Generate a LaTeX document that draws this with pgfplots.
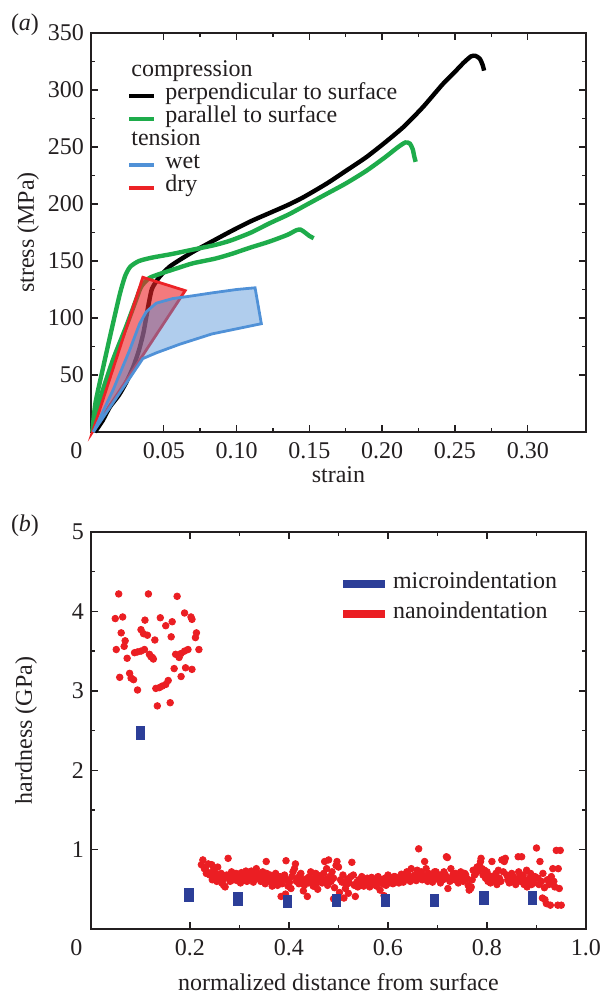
\documentclass[border=0pt]{standalone}
\usepackage{fontspec}
\setmainfont{Liberation Serif}
\usepackage{pgfplots}
\pgfplotsset{compat=1.18}

\definecolor{cgreen}{RGB}{30,172,75}
\definecolor{cblue}{RGB}{80,145,215}
\definecolor{cred}{RGB}{236,34,38}
\definecolor{mblue}{RGB}{44,62,152}
\definecolor{nred}{RGB}{235,30,35}
\definecolor{ink}{RGB}{35,31,32}

\pgfplotsset{
  panel/.style={
    scale only axis, width=247.5pt, clip=false,
    axis line style={line width=0.75pt, ink},
    every tick/.style={line width=0.7pt, ink},
    major tick length=3.5pt, minor tick length=2.2pt,
    tick align=inside,
    /pgf/number format/assume math mode=true,
    tick label style={font=\fontsize{12}{14}\selectfont, text=ink},
    xticklabel style={yshift=-1.5pt},
    label style={font=\fontsize{12}{14}\selectfont, text=ink},
    legend cell align=left,
    legend style={font=\fontsize{12}{14}\selectfont, text=ink, draw=none, fill=none,
      inner sep=0pt, column sep=4.5pt},
  }
}

\begin{document}
\begin{tikzpicture}
\useasboundingbox (-45.5pt,-32pt) rectangle (256.5pt,464.5pt);

% (a) stress-strain
\begin{axis}[panel, height=199.5pt, at={(0pt,248.5pt)}, anchor=south west,
  xmin=0, xmax=0.34, ymin=0, ymax=350,
  xtick={0.05,0.10,0.15,0.20,0.25,0.30},
  xticklabels={0.05,0.10,0.15,0.20,0.25,0.30},
  ytick={50,100,150,200,250,300,350},
  minor x tick num=1, minor y tick num=1,
  xlabel={strain}, ylabel={stress (MPa)},
  xlabel style={at={(axis description cs:0.5,0)}, anchor=base, yshift=-25.3pt},
  ylabel style={at={(axis description cs:-0.127,0.5)}, anchor=center},
  legend image code/.code={\draw[#1,line width=2pt] (0pt,-1.1pt) -- (12.5pt,-1.1pt);},
  legend style={at={(rel axis cs:0.0727,0.935)}, anchor=north west,
    nodes={inner sep=0pt, text height=8.5pt, text depth=3pt}},
]
% compression, perpendicular
\addplot[black, line width=2.2pt, smooth, tension=0.4, forget plot] coordinates {
 (0.0027,0) (0.008,10) (0.013,22) (0.019,32) (0.024,43) (0.029,57) (0.033,72)
 (0.036,87) (0.038,101) (0.040,115) (0.042,126) (0.047,136) (0.054,145)
 (0.061,151) (0.070,158) (0.080,165) (0.096,176) (0.110,185) (0.1225,192)
 (0.135,199) (0.146,206) (0.162,218) (0.175,229) (0.189,241) (0.202,254)
 (0.215,268) (0.228,285) (0.2415,305) (0.250,316) (0.256,324) (0.261,329.5)
 (0.264,330) (0.267,327.5) (0.269,322) (0.270,317)};
% compression, parallel (two samples)
\addplot[cgreen, line width=2.2pt, smooth, tension=0.4, forget plot] coordinates {
 (0.001,0) (0.003,25) (0.0084,57) (0.014,89) (0.0198,121) (0.0235,137)
 (0.027,145) (0.033,150) (0.042,153) (0.055,156) (0.070,160) (0.085,164)
 (0.096,168) (0.110,175) (0.1225,183) (0.136,191) (0.149,200) (0.162,209)
 (0.175,218) (0.189,229) (0.202,241) (0.211,250) (0.216,254) (0.219,253)
 (0.221,248) (0.222,242) (0.223,237)};
\addplot[cgreen, line width=2.2pt, smooth, tension=0.4, forget plot] coordinates {
 (0.001,0) (0.006,28) (0.015,63) (0.024,92) (0.031,116) (0.0345,127.5)
 (0.040,135) (0.048,139) (0.060,144) (0.070,148) (0.085,152) (0.096,156)
 (0.110,162) (0.1225,167) (0.135,173) (0.141,177) (0.144,177.5) (0.147,175)
 (0.150,172) (0.153,170)};
% tension, dry
\addplot[fill=cred, fill opacity=0.6, draw=none, forget plot] coordinates {
 (0.001,0) (0.0356,135.7) (0.0647,124) } -- cycle;
\addplot[cred, line width=1.4pt, forget plot] coordinates {
 (0.001,0) (0.0356,135.7) (0.0647,124) } -- cycle;
% tension, wet
\addplot[fill=cblue, fill opacity=0.45, draw=none, forget plot] coordinates {
 (0.0016,0) (0.0152,37) (0.0266,72) (0.0334,95) (0.038,105.5) (0.0448,113)
 (0.056,117) (0.070,119.5) (0.083,122) (0.100,125) (0.1127,126.5) (0.117,95)
 (0.100,90.5) (0.083,86) (0.061,77) (0.045,69.5) (0.0356,64.4) } -- cycle;
\addplot[cblue, line width=1.4pt, forget plot] coordinates {
 (0.0016,0) (0.0152,37) (0.0266,72) (0.0334,95) (0.038,105.5) (0.0448,113)
 (0.056,117) (0.070,119.5) (0.083,122) (0.100,125) (0.1127,126.5) (0.117,95)
 (0.100,90.5) (0.083,86) (0.061,77) (0.045,69.5) (0.0356,64.4) } -- cycle;

\addlegendimage{empty legend}\addlegendentry{\hspace*{-17pt}compression}
\addlegendimage{black}\addlegendentry{perpendicular to surface}
\addlegendimage{cgreen}\addlegendentry{parallel to surface}
\addlegendimage{empty legend}\addlegendentry{\hspace*{-17pt}tension}
\addlegendimage{cblue}\addlegendentry{wet}
\addlegendimage{cred}\addlegendentry{dry}

\node[font=\fontsize{12}{14}\selectfont, text=ink] at (rel axis cs:0,0) [xshift=-7.25pt, yshift=-9.5pt] {0};
\node[font=\fontsize{12}{14}\selectfont, text=ink] at (rel axis cs:0,1) [xshift=-33pt, yshift=4pt] {(\textit{a})};
\end{axis}

% (b) hardness
\begin{axis}[panel, height=198.5pt, at={(0pt,0pt)}, anchor=south west,
  xmin=0, xmax=1, ymin=0, ymax=5,
  xtick={0.2,0.4,0.6,0.8,1.0},
  xticklabels={0.2,0.4,0.6,0.8,1.0},
  ytick={1,2,3,4,5},
  minor x tick num=1, minor y tick num=1,
  xlabel={normalized distance from surface}, ylabel={hardness (GPa)},
  xlabel style={at={(axis description cs:0.5,0)}, anchor=base, yshift=-30.5pt},
  ylabel style={at={(axis description cs:-0.131,0.5)}, anchor=center},
  legend image code/.code={\fill[#1] (0pt,-2.45pt) rectangle (20.5pt,1.25pt);},
  legend style={at={(rel axis cs:0.508,0.904)}, anchor=north west, column sep=4.2pt,
    row sep=3pt, nodes={inner sep=0pt, text height=9pt, text depth=3pt}},
]
% nanoindentation
\addplot[only marks, mark=*, mark size=1.65pt, mark options={draw=nred, fill=nred}, forget plot] table {
x y
0.056 4.22
0.116 4.22
0.174 4.19
0.049 3.91
0.064 3.93
0.109 3.89
0.140 3.92
0.151 3.82
0.164 3.87
0.189 3.98
0.202 3.93
0.204 3.90
0.061 3.73
0.101 3.77
0.106 3.72
0.114 3.70
0.129 3.64
0.162 3.68
0.213 3.73
0.211 3.67
0.069 3.63
0.067 3.56
0.051 3.52
0.218 3.52
0.088 3.48
0.094 3.49
0.101 3.50
0.108 3.52
0.118 3.46
0.121 3.43
0.124 3.42
0.126 3.40
0.171 3.46
0.178 3.42
0.182 3.47
0.189 3.50
0.196 3.52
0.073 3.41
0.168 3.28
0.191 3.29
0.204 3.27
0.058 3.17
0.078 3.22
0.081 3.16
0.086 3.14
0.182 3.18
0.094 3.01
0.131 3.03
0.138 3.04
0.144 3.06
0.151 3.08
0.156 3.13
0.134 2.81
0.160 2.85
0.223 0.81
0.226 0.87
0.229 0.76
0.231 0.77
0.233 0.70
0.234 0.72
0.237 0.82
0.240 0.68
0.244 0.81
0.245 0.62
0.247 0.74
0.250 0.71
0.251 0.66
0.254 0.60
0.256 0.78
0.258 0.68
0.261 0.64
0.263 0.70
0.264 0.58
0.267 0.62
0.268 0.55
0.271 0.53
0.272 0.66
0.274 0.68
0.277 0.89
0.279 0.64
0.281 0.60
0.284 0.72
0.286 0.67
0.288 0.62
0.291 0.66
0.293 0.70
0.295 0.61
0.297 0.69
0.300 0.64
0.302 0.58
0.304 0.71
0.306 0.66
0.308 0.62
0.310 0.66
0.313 0.73
0.315 0.60
0.317 0.70
0.319 0.64
0.322 0.68
0.324 0.73
0.326 0.63
0.328 0.59
0.331 0.68
0.334 0.76
0.336 0.64
0.338 0.70
0.341 0.66
0.343 0.60
0.345 0.62
0.347 0.72
0.350 0.67
0.352 0.57
0.354 0.85
0.355 0.70
0.357 0.64
0.360 0.61
0.362 0.68
0.364 0.59
0.366 0.54
0.368 0.66
0.371 0.64
0.373 0.70
0.375 0.58
0.377 0.55
0.379 0.62
0.382 0.66
0.384 0.41
0.386 0.57
0.388 0.63
0.391 0.68
0.393 0.44
0.394 0.86
0.396 0.62
0.398 0.54
0.401 0.59
0.404 0.51
0.406 0.66
0.408 0.72
0.411 0.76
0.413 0.82
0.415 0.60
0.417 0.64
0.420 0.57
0.422 0.68
0.424 0.70
0.427 0.61
0.429 0.48
0.431 0.55
0.434 0.63
0.437 0.41
0.439 0.58
0.441 0.66
0.444 0.72
0.446 0.60
0.449 0.54
0.451 0.64
0.454 0.70
0.456 0.58
0.458 0.50
0.460 0.62
0.462 0.67
0.464 0.64
0.467 0.58
0.470 0.70
0.472 0.85
0.474 0.62
0.476 0.76
0.478 0.55
0.480 0.87
0.482 0.66
0.485 0.60
0.487 0.72
0.490 0.38
0.490 0.64
0.492 0.52
0.495 0.80
0.497 0.85
0.500 0.78
0.502 0.46
0.504 0.62
0.507 0.59
0.509 0.68
0.511 0.39
0.514 0.51
0.516 0.56
0.518 0.63
0.520 0.45
0.522 0.58
0.525 0.66
0.527 0.84
0.530 0.68
0.532 0.55
0.534 0.41
0.537 0.59
0.539 0.53
0.541 0.62
0.544 0.57
0.547 0.66
0.549 0.60
0.551 0.54
0.553 0.62
0.556 0.57
0.558 0.64
0.560 0.59
0.563 0.53
0.565 0.61
0.567 0.65
0.570 0.56
0.573 0.59
0.575 0.63
0.577 0.54
0.580 0.66
0.582 0.60
0.584 0.49
0.587 0.62
0.589 0.57
0.592 0.42
0.592 0.60
0.594 0.64
0.596 0.55
0.598 0.61
0.600 0.68
0.603 0.58
0.605 0.63
0.607 0.62
0.610 0.57
0.612 0.66
0.614 0.66
0.617 0.60
0.620 0.64
0.622 0.58
0.624 0.62
0.627 0.69
0.629 0.63
0.631 0.59
0.634 0.66
0.636 0.62
0.638 0.72
0.640 0.70
0.643 0.64
0.645 0.60
0.647 0.76
0.650 0.66
0.652 0.63
0.654 0.68
0.657 0.61
0.659 0.74
0.662 1.01
0.664 0.66
0.667 0.72
0.669 0.62
0.671 0.68
0.674 0.85
0.676 0.64
0.677 0.76
0.680 0.60
0.682 0.70
0.684 0.68
0.687 0.62
0.690 0.59
0.692 0.66
0.694 0.72
0.697 0.72
0.699 0.63
0.702 0.68
0.704 0.64
0.706 0.58
0.709 0.66
0.711 0.62
0.713 0.72
0.716 0.68
0.718 0.91
0.720 0.90
0.721 0.51
0.723 0.64
0.725 0.60
0.727 0.76
0.730 0.66
0.732 0.70
0.735 0.62
0.737 0.70
0.740 0.65
0.742 0.58
0.745 0.68
0.747 0.72
0.750 0.64
0.752 0.60
0.755 0.70
0.757 0.68
0.760 0.63
0.762 0.55
0.764 0.49
0.767 0.51
0.768 0.53
0.770 0.62
0.772 0.74
0.775 0.68
0.777 0.70
0.780 0.78
0.782 0.73
0.785 0.80
0.787 0.85
0.788 0.89
0.790 0.76
0.792 0.68
0.795 0.74
0.797 0.64
0.800 0.72
0.802 0.60
0.805 0.67
0.807 0.58
0.810 0.85
0.813 0.66
0.815 0.62
0.818 0.70
0.820 0.56
0.823 0.74
0.825 0.64
0.828 0.60
0.830 0.87
0.833 0.72
0.835 0.85
0.837 0.89
0.840 0.68
0.842 0.62
0.845 0.58
0.847 0.64
0.850 0.70
0.853 0.66
0.855 0.60
0.858 0.56
0.860 0.62
0.863 0.91
0.864 0.72
0.866 0.66
0.868 0.60
0.870 0.91
0.873 0.68
0.875 0.56
0.877 0.62
0.880 0.74
0.881 0.53
0.883 0.59
0.886 0.64
0.888 0.70
0.890 0.56
0.893 0.62
0.895 0.58
0.897 0.66
0.900 1.02
0.903 0.64
0.905 0.56
0.907 0.85
0.910 0.60
0.912 0.39
0.913 0.70
0.916 0.52
0.917 0.37
0.920 0.32
0.922 0.62
0.925 0.56
0.927 0.59
0.928 0.30
0.930 0.66
0.933 0.76
0.935 0.60
0.937 0.53
0.940 0.99
0.943 0.30
0.944 0.76
0.946 0.51
0.948 0.99
0.950 0.30
};
% microindentation
\addplot[only marks, mark=square*, mark size=3.1pt, mark options={xscale=0.68, draw=mblue, fill=mblue}, forget plot] coordinates {
 (0.100,2.47) (0.198,0.43) (0.297,0.38) (0.397,0.35) (0.496,0.36)
 (0.595,0.36) (0.694,0.36) (0.794,0.39) (0.892,0.39)};

\addlegendimage{mblue}\addlegendentry{microindentation}
\addlegendimage{nred}\addlegendentry{nanoindentation}

\node[font=\fontsize{12}{14}\selectfont, text=ink] at (rel axis cs:0,0) [xshift=-7.25pt, yshift=-9.5pt] {0};
\node[font=\fontsize{12}{14}\selectfont, text=ink] at (rel axis cs:0,1) [xshift=-33pt, yshift=3.3pt] {(\textit{b})};
\end{axis}
\end{tikzpicture}
\end{document}
